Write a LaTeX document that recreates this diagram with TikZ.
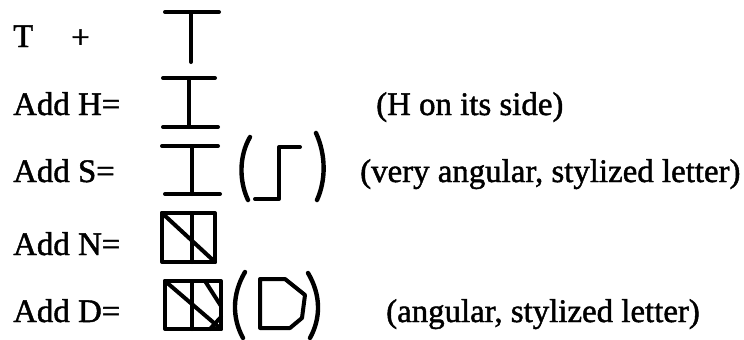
\documentclass[tikz,border=0pt]{standalone}
\usepackage{fontspec}
\setmainfont{Liberation Serif}
\newfontfamily\scanfont{Liberation Serif}[FakeBold=1.4]
\usepackage{tikz}

\begin{document}
\begin{tikzpicture}[
  x=1bp, y=-1bp,
  lbl/.style={anchor=base west, inner sep=0pt, font=\scanfont\fontsize{33}{38}\selectfont},
  glyph/.style={line width=4bp, line cap=round, line join=round},
  paren/.style={line width=4.4bp, line cap=round}
]
\useasboundingbox (0,0) rectangle (744,339);

% labels down the left
\node[lbl] (t)    at (13,47)  {T};
\node[lbl] (plus) at (71,48)  {+};
\node[lbl] (addh) at (13,115) {Add H=};
\node[lbl] (adds) at (13,182) {Add S=};
\node[lbl] (addn) at (13,255) {Add N=};
\node[lbl] (addd) at (13,322) {Add D=};

% notes on the right
\node[lbl] (noteh) at (376,115) {(H on its side)};
\node[lbl] (notes) at (360,182) {(very angular, stylized letter)};
\node[lbl] (noted) at (386,322) {(angular, stylized letter)};

% T
\draw[glyph] (165,12) -- (219,12);
\draw[glyph] (191,12) -- (191,62);
% H on its side
\draw[glyph] (163,78) -- (215,78);
\draw[glyph] (189,78) -- (189,127);
\draw[glyph] (163,127) -- (218,127);
% plus S
\draw[glyph] (162,146) -- (218,146);
\draw[glyph] (192,146) -- (192,194);
\draw[glyph] (165,194) -- (220,194);
\draw[paren] (250,137) .. controls (239,156) and (239,181) .. (248,200);
\draw[glyph] (255,199) -- (279,199) -- (279,147) -- (300,147);
\draw[paren] (316,133) .. controls (326,155) and (326,180) .. (317,200);
% plus N
\draw[glyph] (162,213) rectangle (215,262);
\draw[glyph] (162,213) -- (215,262);
\draw[glyph] (192,213) -- (192,262);
% plus D
\draw[glyph] (165,281) rectangle (221,329);
\draw[glyph] (165,281) -- (221,329);
\draw[glyph] (192,281) -- (192,329);
\draw[glyph] (205,281) -- (221,306);
\draw[glyph] (210,329) -- (221,317);
\draw[paren] (245,272) .. controls (232,294) and (232,318) .. (243,338);
\draw[glyph] (260,279) -- (285,279) -- (305,295) -- (302,318) -- (290,328) -- (260,328) -- cycle;
\draw[paren] (308,273) .. controls (321,295) and (321,318) .. (310,338);

\end{tikzpicture}
\end{document}
